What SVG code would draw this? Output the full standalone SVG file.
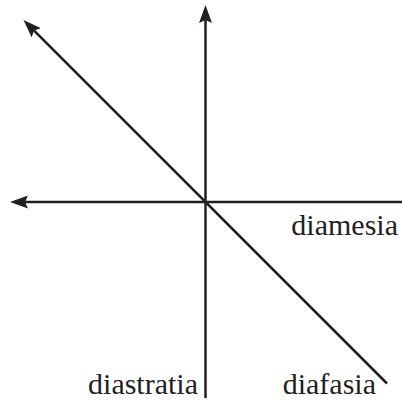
<svg xmlns="http://www.w3.org/2000/svg" width="402" height="401" viewBox="0 0 402 401">
<style>
.ax{stroke:#231f20;stroke-width:2.5;fill:none}
.lbl{font-family:"Liberation Serif","Times New Roman",serif;font-size:30px;fill:#231f20}
</style>
<defs>
<marker id="ah" viewBox="0 0 18 13" refX="3" refY="6.5" markerWidth="18" markerHeight="13" markerUnits="userSpaceOnUse" orient="auto">
<path d="M0,0 L18,6.5 L0,13 L3,6.5 z" fill="#231f20"/>
</marker>
</defs>
<rect width="402" height="401" fill="#fff"/>
<g id="connectors">
<line class="ax" x1="205.5" y1="398" x2="205.5" y2="20" marker-end="url(#ah)"/>
<line class="ax" x1="402" y1="202" x2="25" y2="202" marker-end="url(#ah)"/>
<line class="ax" x1="387" y1="383.5" x2="34.1" y2="30.6" marker-end="url(#ah)"/>
</g>
<g id="diamesia"><text class="lbl" x="398" y="235" text-anchor="end">diamesia</text></g>
<g id="diastratia"><text class="lbl" x="198" y="394" text-anchor="end">diastratia</text></g>
<g id="diafasia"><text class="lbl" x="376" y="394" text-anchor="end">diafasia</text></g>
</svg>
